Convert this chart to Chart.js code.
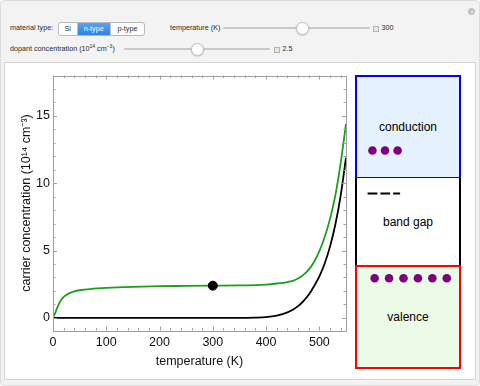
<!DOCTYPE html>
<html>
<head>
<meta charset="utf-8">
<script src="https://cdn.jsdelivr.net/npm/chart.js@4.4.0/dist/chart.umd.min.js"></script>
<style>
  html, body { margin: 0; padding: 0; }
  body { width: 480px; height: 386px; position: relative; overflow: hidden; background: #ffffff; font-family: 'Liberation Sans', Arial, sans-serif; }
  .abs { position: absolute; }
  #outer { left: 0; top: 0; width: 478px; height: 384px; border: 1px solid #dcdcdc; border-radius: 4px; background: #f3f3f3; }
  #panel { left: 4px; top: 62px; width: 470px; height: 316px; border: 1px solid #d4d4d4; background: #fff; }
  .lbl { font-size: 7.2px; color: #2a2a2a; white-space: nowrap; line-height: 10px; }
  .lbl sup { font-size: 5px; line-height: 0; }
  #seg { left: 58px; top: 22px; width: 85px; height: 12px; border: 1px solid #b9b9b9; border-radius: 3px; background: #fff; overflow: hidden; display: flex; }
  #seg div { font-size: 7.2px; color: #2a2a2a; text-align: center; line-height: 12px; }
  .track { height: 2px; background: #c9c9c9; border-radius: 1px; }
  .knob { width: 11px; height: 11px; border-radius: 50%; background: #fff; border: 1px solid #c4c4c4; box-shadow: 0 0.5px 1.5px rgba(0,0,0,0.25); }
  .plus { width: 4px; height: 4px; border: 1px solid #b5b5b5; background: #e6e6e6; }
  .box { box-sizing: border-box; }
  .bandtxt { font-size: 12px; color: #000; width: 106px; text-align: center; left: 355px; line-height: 14px; }
</style>
</head>
<body>
<script>
// ---- data ----
const temperatures = [0, 5, 10, 15, 20, 30, 40, 50, 70, 100, 150, 200, 250, 300, 350, 380, 400, 420, 440, 450, 460, 470, 480, 490, 500, 510, 520, 530, 540, 550];
const electronConc = [0, 0.45, 0.95, 1.3, 1.55, 1.82, 1.97, 2.05, 2.14, 2.22, 2.3, 2.35, 2.37, 2.39, 2.41, 2.43, 2.47, 2.55, 2.66, 2.75, 2.92, 3.19, 3.58, 4.15, 4.95, 6.0, 7.35, 9.1, 11.5, 14.4];
const holeConc     = [0, 0, 0, 0, 0, 0, 0, 0, 0, 0, 0, 0, 0, 0, 0, 0.02, 0.06, 0.17, 0.4, 0.6, 0.87, 1.25, 1.72, 2.35, 3.08, 4.04, 5.29, 6.93, 9.08, 11.9];
const currentTemperature = 300;
const currentConc = 2.39;
const xTickValues = [0, 100, 200, 300, 400, 500];
const yTickValues = [0, 5, 10, 15];
const bandLabels = ['conduction', 'band gap', 'valence'];
const conductionCarriers = 3;
const valenceCarriers = 6;
const donorLevelSegments = 3;
const controlValues = { temperature: '300', dopant: '2.5' };
const materialTypes = ['Si', 'n-type', 'p-type'];
</script>

<div id="outer" class="abs"></div>
<div id="panel" class="abs"></div>

<!-- gear -->
<div class="abs" style="left:468px;top:8px;width:7px;height:7px;border-radius:50%;background:#c2c2c2;"></div>
<div class="abs" style="left:470.5px;top:10.5px;width:2px;height:2px;border-radius:50%;background:#f3f3f3;"></div>

<!-- row 1 -->
<div class="abs lbl" style="left:10px;top:23px;">material type:</div>
<div id="seg" class="abs"></div>
<div class="abs lbl" style="left:170px;top:23px;">temperature (K)</div>
<div class="abs track" style="left:223px;top:27px;width:147px;"></div>
<div class="abs knob" style="left:295.5px;top:22px;"></div>
<div class="abs plus" style="left:372.5px;top:25.5px;"></div>
<div id="tval" class="abs lbl" style="left:381.5px;top:23px;"></div>

<!-- row 2 -->
<div class="abs lbl" style="left:10px;top:44px;">dopant concentration (10<sup>14</sup> cm<sup>−3</sup>)</div>
<div class="abs track" style="left:124px;top:48px;width:146px;"></div>
<div class="abs knob" style="left:190.5px;top:43px;"></div>
<div class="abs plus" style="left:273.5px;top:46.5px;"></div>
<div id="dval" class="abs lbl" style="left:282.5px;top:44px;"></div>

<!-- band diagram boxes -->
<div class="abs box" style="left:355px;top:75px;width:106px;height:104px;border:2px solid #0000ff;background:#e6f2ff;"></div>
<div class="abs box" style="left:355px;top:178px;width:106px;height:88px;border-left:2px solid #000;border-right:2px solid #000;background:#fff;"></div>
<div class="abs box" style="left:355px;top:265px;width:106px;height:104px;border:2px solid #ff0000;background:#ecfbe7;"></div>
<div id="bt0" class="abs bandtxt" style="top:119.5px;"></div>
<div id="bt1" class="abs bandtxt" style="top:215px;"></div>
<div id="bt2" class="abs bandtxt" style="top:309.5px;"></div>

<canvas id="band" class="abs" style="left:355px;top:75px;" width="106" height="294"></canvas>
<canvas id="chart" class="abs" style="left:0;top:0;" width="480" height="386"></canvas>

<script>
// controls text
const seg = document.getElementById('seg');
const segWidths = [18, 33, 34];
materialTypes.forEach((m, i) => {
  const d = document.createElement('div');
  d.textContent = m;
  d.style.width = segWidths[i] + 'px';
  if (m === 'n-type') { d.style.background = 'linear-gradient(#5aa2f7,#2f82ef)'; d.style.color = '#fff'; }
  if (i > 0) d.style.borderLeft = '1px solid #c4c4c4';
  seg.appendChild(d);
});
document.getElementById('tval').textContent = controlValues.temperature;
document.getElementById('dval').textContent = controlValues.dopant;
bandLabels.forEach((t, i) => document.getElementById('bt' + i).textContent = t);

// ---- main chart ----
const FONT = "'Liberation Sans', Arial, sans-serif";
const framePlugin = {
  id: 'frame',
  afterDatasetsDraw(chart) {
    const { ctx, chartArea: a, scales: { x, y } } = chart;
    ctx.save();
    ctx.strokeStyle = '#a0a0a0';
    ctx.lineWidth = 1;
    ctx.strokeRect(Math.round(a.left) + 0.5, Math.round(a.top) + 0.5, Math.round(a.right - a.left), Math.round(a.bottom - a.top));
    ctx.beginPath();
    for (let v = x.min; v <= x.max + 1e-6; v += 20) {
      const px = Math.round(x.getPixelForValue(v)) + 0.5;
      const L = (v % 100 === 0) ? 4 : 2.5;
      ctx.moveTo(px, a.bottom); ctx.lineTo(px, a.bottom - L);
      ctx.moveTo(px, a.top); ctx.lineTo(px, a.top + L);
    }
    for (let v = Math.ceil(y.min); v <= y.max; v += 1) {
      const py = Math.round(y.getPixelForValue(v)) + 0.5;
      const L = (v % 5 === 0) ? 4 : 2.5;
      ctx.moveTo(a.left, py); ctx.lineTo(a.left + L, py);
      ctx.moveTo(a.right, py); ctx.lineTo(a.right - L, py);
    }
    ctx.stroke();
    ctx.restore();
  }
};

new Chart(document.getElementById('chart'), {
  type: 'scatter',
  data: {
    datasets: [
      {
        label: 'dot', data: [{ x: currentTemperature, y: currentConc }],
        pointRadius: 4.5, pointBackgroundColor: '#000', pointBorderColor: '#000', showLine: false, order: 0
      },
      {
        label: 'electrons', data: temperatures.map((t, i) => ({ x: t, y: electronConc[i] })),
        showLine: true, borderColor: '#1d9e1d', borderWidth: 1.8, pointRadius: 0, cubicInterpolationMode: 'monotone', order: 1
      },
      {
        label: 'holes', data: temperatures.map((t, i) => ({ x: t, y: holeConc[i] })),
        showLine: true, borderColor: '#000', borderWidth: 1.8, pointRadius: 0, cubicInterpolationMode: 'monotone', order: 2
      }
    ]
  },
  options: {
    responsive: false, animation: false, devicePixelRatio: 1,
    layout: { padding: { left: 0, top: 75.5, right: 134, bottom: 0 } },
    plugins: { legend: { display: false }, tooltip: { enabled: false } },
    scales: {
      x: {
        type: 'linear', min: 0, max: 550,
        grid: { display: false, drawTicks: false }, border: { display: false },
        afterBuildTicks: s => { s.ticks = xTickValues.map(v => ({ value: v })); },
        afterFit: s => { s.height = 55.5; },
        ticks: { color: '#111', font: { family: FONT, size: 12.5 }, padding: 5, maxRotation: 0 },
        title: { display: true, text: 'temperature (K)', color: '#111', font: { family: FONT, size: 12.5 }, padding: { top: 0, bottom: 17 } }
      },
      y: {
        type: 'linear', min: -0.94, max: 18.0,
        grid: { display: false, drawTicks: false }, border: { display: false },
        afterBuildTicks: s => { s.ticks = yTickValues.map(v => ({ value: v })); },
        afterFit: s => { s.width = 53; },
        ticks: { color: '#111', font: { family: FONT, size: 12.5 }, padding: 3 },
        title: { display: true, text: 'carrier concentration (10¹⁴ cm⁻³)', color: '#111', font: { family: FONT, size: 12.5 }, padding: { top: 19, bottom: 0 } }
      }
    }
  },
  plugins: [framePlugin]
});

// ---- band diagram carriers ----
const condPts = Array.from({ length: conductionCarriers }, (_, i) => ({ x: 14.3 + i * 13.7, y: 73.3 }));
const valPts = Array.from({ length: valenceCarriers }, (_, i) => ({ x: 16.7 + i * 15.7, y: 205 }));
const donorLine = [{ x: 9, y: 117.7 }, { x: 9 + donorLevelSegments * 12.8 - 3, y: 117.7 }];
new Chart(document.getElementById('band'), {
  type: 'scatter',
  data: {
    datasets: [
      { data: condPts, pointRadius: 4.3, pointBackgroundColor: '#7f007f', pointBorderWidth: 0 },
      { data: valPts, pointRadius: 4.3, pointBackgroundColor: '#7f007f', pointBorderWidth: 0 },
      { data: donorLine, showLine: true, borderColor: '#000', borderWidth: 2, borderDash: [9.8, 3], pointRadius: 0 }
    ]
  },
  options: {
    responsive: false, animation: false, devicePixelRatio: 1,
    layout: { padding: 0 },
    plugins: { legend: { display: false }, tooltip: { enabled: false } },
    scales: {
      x: { display: false, min: 0, max: 106 },
      y: { display: false, min: 0, max: 294, reverse: true }
    }
  }
});
</script>
</body>
</html>
